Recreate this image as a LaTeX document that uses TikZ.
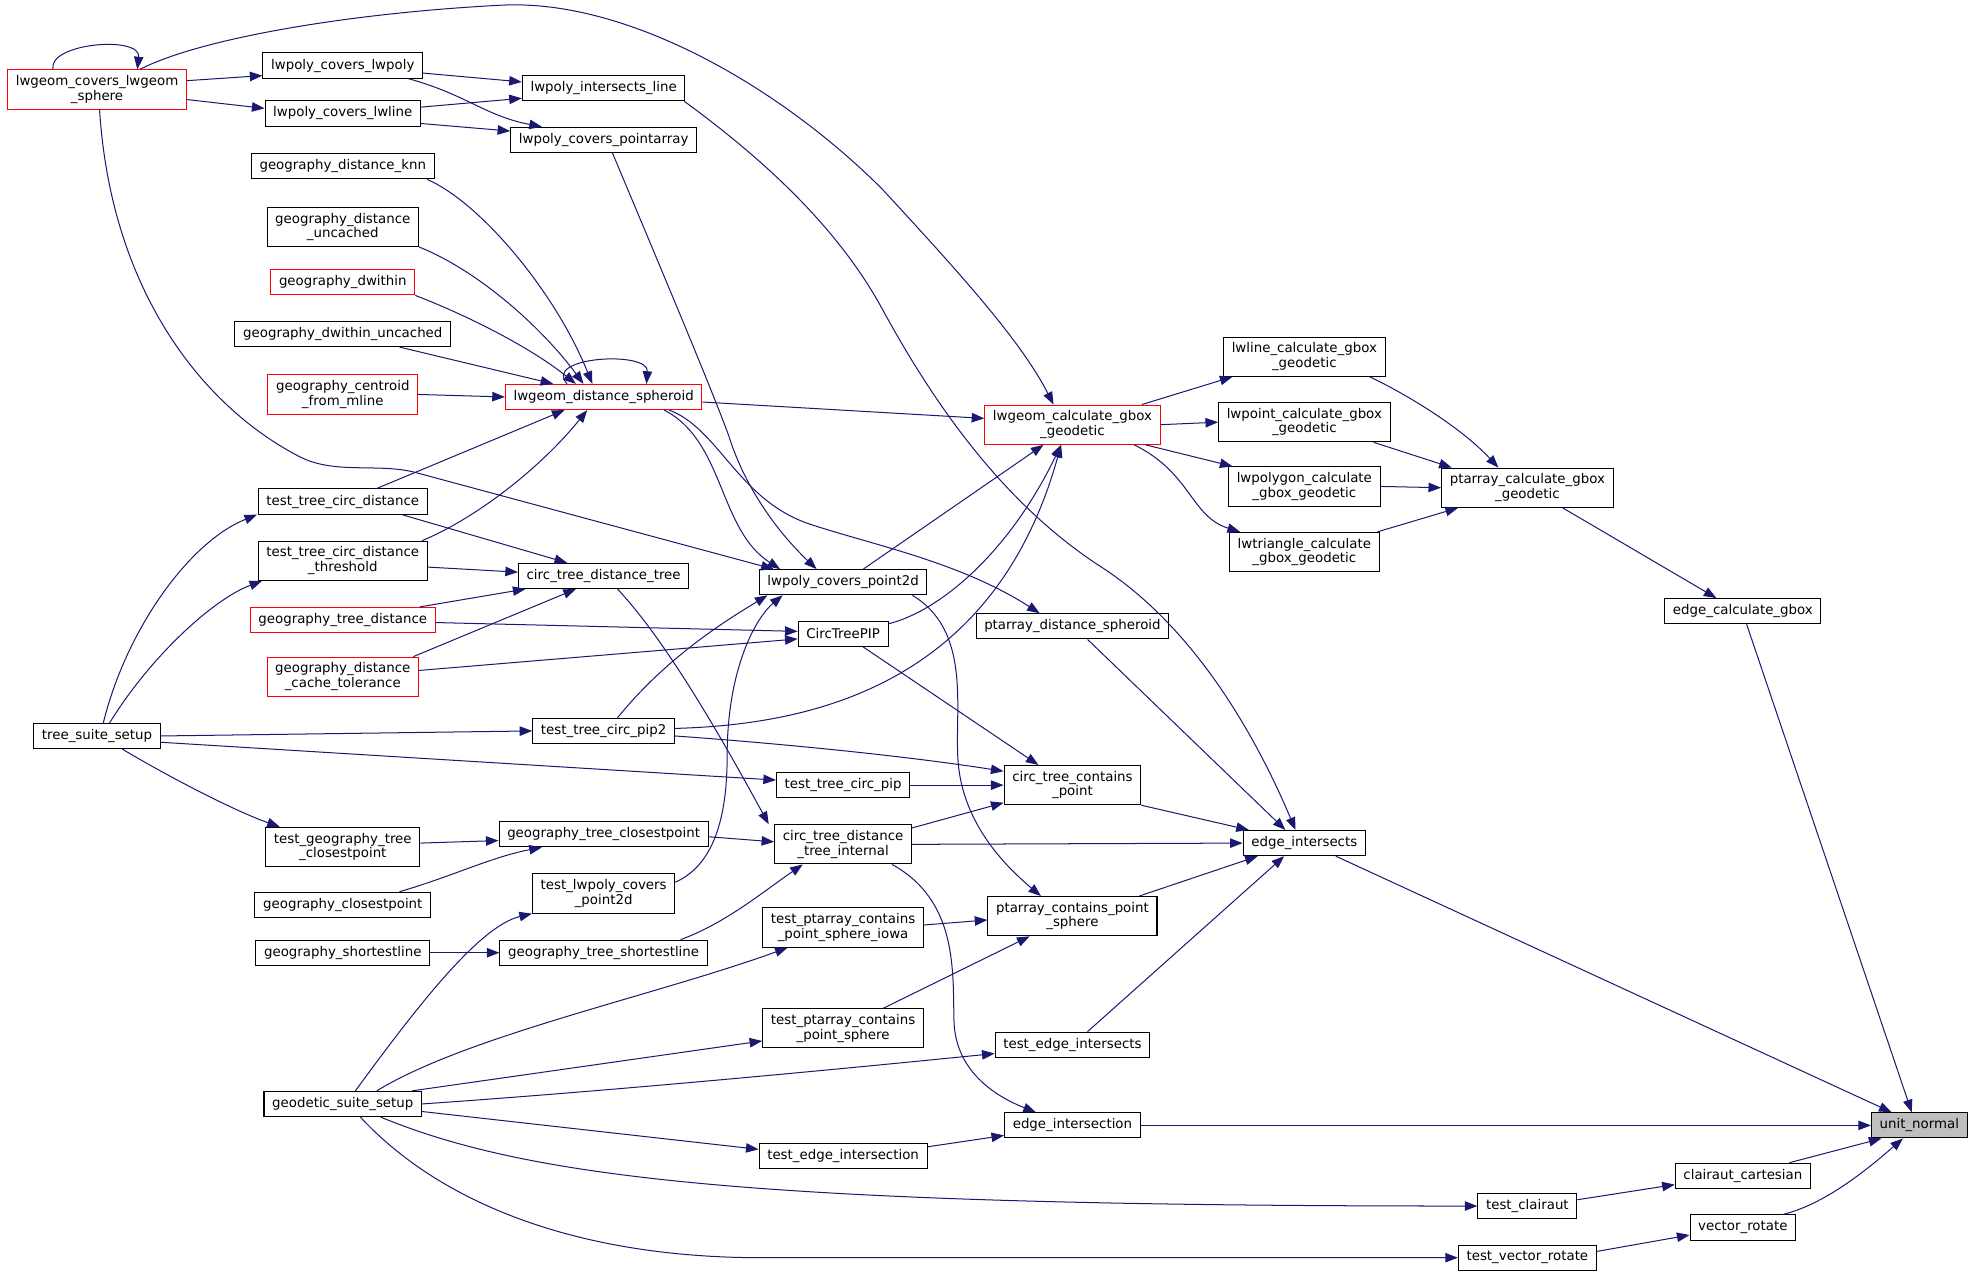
\documentclass[tikz,border=0pt]{standalone}
\usepackage{fontspec}
\setmainfont{DejaVu Sans}
\usepackage{xcolor}
\definecolor{colorEdge}{HTML}{191970}
\colorlet{colorMissing}{red}
\definecolor{colorRoot}{HTML}{BFBFBF}
\usepackage{tikz}
\usetikzlibrary{arrows.meta}
\tikzset{func/.style={draw=black, fill=white, rectangle, align=center, inner xsep=6.5pt, inner ysep=4.5pt, minimum height=20pt, font={\fontsize{10.6}{11.6}\selectfont}}}
\tikzset{funcRed/.style={func, draw=colorMissing}}
\tikzset{funcRoot/.style={func, fill=colorRoot}}

\begin{document}
\begin{tikzpicture}[x=1pt, y=-1pt, >={Triangle[length=10pt,width=7.5pt]}, thick]
\useasboundingbox (0,0) rectangle (1568,1012.5);
\node[funcRoot] (n1) at (1523,893) {unit\_normal};
\node[func] (n2) at (1035,669) {edge\_intersects};
\node[func] (n3) at (1383,485) {edge\_calculate\_gbox};
\node[func] (n4) at (851,893) {edge\_intersection};
\node[func] (n5) at (1383,933) {clairaut\_cartesian};
\node[func] (n6) at (1383,974) {vector\_rotate};
\node[func] (n7) at (1212,387) {ptarray\_calculate\_gbox\\\_geodetic};
\node[func] (n8) at (1035,283) {lwline\_calculate\_gbox\\\_geodetic};
\node[func] (n9) at (1035,335) {lwpoint\_calculate\_gbox\\\_geodetic};
\node[func] (n10) at (1035,386) {lwpolygon\_calculate\\\_gbox\_geodetic};
\node[func] (n11) at (1035,438) {lwtriangle\_calculate\\\_gbox\_geodetic};
\node[funcRed] (n12) at (851,337) {lwgeom\_calculate\_gbox\\\_geodetic};
\node[funcRed] (n13) at (77,71) {lwgeom\_covers\_lwgeom\\\_sphere};
\node[func] (n14) at (272,52) {lwpoly\_covers\_lwpoly};
\node[func] (n15) at (272,90) {lwpoly\_covers\_lwline};
\node[func] (n16) at (479,70) {lwpoly\_intersects\_line};
\node[func] (n17) at (479,111) {lwpoly\_covers\_pointarray};
\node[func] (n18) at (669,462) {lwpoly\_covers\_point2d};
\node[funcRed] (n19) at (479,315) {lwgeom\_distance\_spheroid};
\node[func] (n20) at (272,132) {geography\_distance\_knn};
\node[func] (n21) at (272,180) {geography\_distance\\\_uncached};
\node[funcRed] (n22) at (272,224) {geography\_dwithin};
\node[func] (n23) at (272,265) {geography\_dwithin\_uncached};
\node[funcRed] (n24) at (272,313) {geography\_centroid\\\_from\_mline};
\node[func] (n25) at (272,398) {test\_tree\_circ\_distance};
\node[func] (n26) at (272,445) {test\_tree\_circ\_distance\\\_threshold};
\node[func] (n27) at (77,584) {tree\_suite\_setup};
\node[func] (n28) at (479,457) {circ\_tree\_distance\_tree};
\node[funcRed] (n29) at (272,492) {geography\_tree\_distance};
\node[funcRed] (n30) at (272,537) {geography\_distance\\\_cache\_tolerance};
\node[func] (n31) at (669,503) {CircTreePIP};
\node[func] (n32) at (851,497) {ptarray\_distance\_spheroid};
\node[func] (n33) at (479,580) {test\_tree\_circ\_pip2};
\node[func] (n34) at (851,623) {circ\_tree\_contains\\\_point};
\node[func] (n35) at (669,623) {test\_tree\_circ\_pip};
\node[func] (n36) at (669,670) {circ\_tree\_distance\\\_tree\_internal};
\node[func] (n37) at (479,662) {geography\_tree\_closestpoint};
\node[func] (n38) at (272,672) {test\_geography\_tree\\\_closestpoint};
\node[func] (n39) at (272,718) {geography\_closestpoint};
\node[func] (n40) at (479,709) {test\_lwpoly\_covers\\\_point2d};
\node[func] (n41) at (479,756) {geography\_tree\_shortestline};
\node[func] (n42) at (272,756) {geography\_shortestline};
\node[func] (n43) at (851,727) {ptarray\_contains\_point\\\_sphere};
\node[func] (n44) at (669,736) {test\_ptarray\_contains\\\_point\_sphere\_iowa};
\node[func] (n45) at (669,816) {test\_ptarray\_contains\\\_point\_sphere};
\node[func] (n46) at (851,829) {test\_edge\_intersects};
\node[func] (n47) at (272,876) {geodetic\_suite\_setup};
\node[func] (n48) at (669,917) {test\_edge\_intersection};
\node[func] (n49) at (1212,957) {test\_clairaut};
\node[func] (n50) at (1212,998) {test\_vector\_rotate};
\draw [->, colorEdge] ([xshift=25pt]n2.south) -- ([xshift=-22pt]n1.north);
\draw [->, colorEdge] ([xshift=3pt]n3.south) -- ([xshift=-6pt]n1.north);
\draw [->, colorEdge] (n4.east) -- (n1.west);
\draw [->, colorEdge] ([xshift=37pt]n5.north) -- ([xshift=-30pt]n1.south);
\draw [->, colorEdge] ([xshift=32pt]n6.north) .. controls (1450,955) and (1485,925) .. ([xshift=-13pt]n1.south);
\draw [->, colorEdge] ([yshift=5pt]n49.east) -- ([yshift=-7pt]n5.west);
\draw [->, colorEdge] ([yshift=5pt]n50.east) -- ([yshift=-6pt]n6.west);
\draw [->, colorEdge] ([xshift=30pt]n47.south) .. controls (420,935) and (600,957) .. (n49.west);
\draw [->, colorEdge] ([xshift=14pt]n47.south) .. controls (340,945) and (440,997) .. (600,998) -- (n50.west);
\draw [->, colorEdge] ([yshift=-6pt]n47.east) -- ([yshift=5pt]n48.west);
\draw [->, colorEdge] (n47.east) .. controls (480,866) and (650,850) .. ([yshift=-7pt]n46.west);
\draw [->, colorEdge] ([xshift=55pt]n47.north) -- ([yshift=-10pt]n45.west);
\draw [->, colorEdge] ([xshift=27pt]n47.north) .. controls (370,822) and (520,790) .. ([xshift=-44pt]n44.south);
\draw [->, colorEdge] ([xshift=10pt]n47.north) .. controls (330,800) and (380,735) .. (n40.south west);
\draw [->, colorEdge] (n42.east) -- (n41.west);
\draw [->, colorEdge] ([xshift=61pt]n41.north) .. controls (575,733) and (605,708) .. ([xshift=-32pt]n36.south);
\draw [->, colorEdge] ([xshift=45pt]n39.north) .. controls (360,695) and (390,680) .. ([xshift=-49pt]n37.south);
\draw [->, colorEdge] ([yshift=3pt]n38.east) -- ([yshift=-5pt]n37.west);
\draw [->, colorEdge] ([xshift=20pt]n27.south) .. controls (140,620) and (190,645) .. ([xshift=-50pt]n38.north);
\draw [->, colorEdge] ([yshift=-5pt]n27.east) -- ([yshift=4pt]n35.west);
\draw [->, colorEdge] (n27.east) -- (n33.west);
\draw [->, colorEdge] ([xshift=5pt]n27.north) .. controls (100,500) and (150,430) .. ([xshift=-68pt]n25.south);
\draw [->, colorEdge] ([xshift=10pt]n27.north) .. controls (120,520) and (170,475) .. ([xshift=-64pt]n26.south);
\draw [->, colorEdge] ([xshift=27pt]n25.north) -- ([xshift=-31pt]n19.south);
\draw [->, colorEdge] ([xshift=63pt]n26.north) .. controls (380,410) and (430,370) .. ([xshift=-13pt]n19.south);
\draw [->, colorEdge] ([xshift=47pt]n25.south) -- ([xshift=-29pt]n28.north);
\draw [->, colorEdge] ([yshift=-5pt]n26.east) -- ([yshift=3pt]n28.west);
\draw [->, colorEdge] ([xshift=61pt]n29.north) -- ([xshift=-62pt]n28.south);
\draw [->, colorEdge] ([xshift=56pt]n30.north) -- ([xshift=-22pt]n28.south);
\draw [->, colorEdge] ([yshift=-2pt]n29.east) -- ([yshift=2pt]n31.west);
\draw [->, colorEdge] ([yshift=5pt]n30.east) -- ([yshift=-4pt]n31.west);
\draw [->, colorEdge] ([xshift=11pt]n28.south) .. controls (530,510) and (575,590) .. ([xshift=-59pt]n36.north);
\draw [->, colorEdge] ([yshift=-2pt]n37.east) -- ([yshift=2pt]n36.west);
\draw [->, colorEdge] (n36.east) -- (n2.west);
\draw [->, colorEdge] ([yshift=13pt]n36.east) -- ([yshift=2pt]n34.south west);
\draw [->, colorEdge] (n35.east) -- (n34.west);
\draw [->, colorEdge] ([yshift=-4pt]n33.east) .. controls (620,590) and (720,600) .. ([yshift=11pt]n34.west);
\draw [->, colorEdge] ([xshift=11pt]n33.north) .. controls (530,520) and (580,490) .. ([xshift=-60pt]n18.south);
\draw [->, colorEdge] ([yshift=9pt]n40.east) .. controls (570,685) and (577,640) .. (577,600) .. controls (577,530) and (600,490) .. ([xshift=-48pt]n18.south);
\draw [->, colorEdge] ([xshift=16pt]n18.north) -- ([xshift=-23pt]n12.south);
\draw [->, colorEdge] ([yshift=8pt]n31.east) .. controls (745,485) and (800,440) .. ([xshift=-9pt]n12.south);
\draw [->, colorEdge] ([yshift=2pt]n33.east) .. controls (650,575) and (790,540) .. ([xshift=-9pt]n12.south);
\draw [->, colorEdge] ([yshift=-4pt]n19.east) -- ([yshift=5pt]n12.west);
\draw [->, colorEdge] ([xshift=34pt]n13.north) .. controls (160,30) and (280,10) .. (400,4) .. controls (500,0) and (620,70) .. (700,150) .. controls (760,215) and (810,270) .. ([xshift=-15pt]n12.north);
\draw [->, colorEdge] ([xshift=-35pt]n13.north) .. controls (38,34) and (112,28) .. ([xshift=32pt]n13.north);
\draw [->, colorEdge] ([yshift=7pt]n13.east) -- ([yshift=-8pt]n14.west);
\draw [->, colorEdge] ([yshift=-8pt]n13.east) -- ([yshift=4pt]n15.west);
\draw [->, colorEdge] ([yshift=-6pt]n14.east) -- ([yshift=5pt]n16.west);
\draw [->, colorEdge] ([yshift=5pt]n15.east) -- ([yshift=-8pt]n16.west);
\draw [->, colorEdge] ([xshift=52pt]n14.south) .. controls (370,75) and (385,92) .. ([xshift=-49pt]n17.north);
\draw [->, colorEdge] ([yshift=-8pt]n15.east) -- ([yshift=7pt]n17.west);
\draw [->, colorEdge] ([xshift=64pt]n16.south) .. controls (604,125) and (664,179) .. (700,245) .. controls (743,324) and (798,401) .. (874,450) .. controls (945,496) and (994,578) .. ([xshift=-7pt]n2.north);
\draw [->, colorEdge] ([xshift=7pt]n17.south) .. controls (540,250) and (565,310) .. (578,345) .. controls (592,390) and (620,425) .. ([xshift=-21pt]n18.north);
\draw [->, colorEdge] ([xshift=2pt]n13.south) .. controls (88,230) and (160,322) .. (237,362) .. controls (265,377) and (300,367) .. (330,375) -- ([xshift=-55pt]n18.north);
\draw [->, colorEdge] ([xshift=48pt]n19.south) .. controls (575,350) and (570,420) .. ([xshift=-50pt]n18.north);
\draw [->, colorEdge] ([xshift=52pt]n19.south) .. controls (570,340) and (585,395) .. (640,415) .. controls (690,432) and (760,445) .. ([xshift=-26pt]n32.north);
\draw [->, colorEdge] ([xshift=-29pt]n19.north) .. controls (430,283) and (515,278) .. ([xshift=34pt]n19.north);
\draw [->, colorEdge] ([xshift=67pt]n20.south) .. controls (380,160) and (440,230) .. ([xshift=-9pt]n19.north);
\draw [->, colorEdge] (n21.south east) .. controls (380,215) and (430,260) .. ([xshift=-16pt]n19.north);
\draw [->, colorEdge] (n22.south east) .. controls (370,250) and (420,275) .. ([xshift=-22pt]n19.north);
\draw [->, colorEdge] ([xshift=45pt]n23.south) -- ([xshift=-40pt]n19.north);
\draw [->, colorEdge] (n24.east) -- (n19.west);
\draw [->, colorEdge] ([xshift=55pt]n12.north) -- ([xshift=-57pt]n8.south);
\draw [->, colorEdge] (n12.east) -- (n9.west);
\draw [->, colorEdge] ([xshift=58pt]n12.south) -- ([xshift=-57pt]n10.north);
\draw [->, colorEdge] ([xshift=49pt]n12.south) .. controls (945,375) and (945,410) .. ([xshift=-51pt]n11.north);
\draw [->, colorEdge] ([xshift=52pt]n8.south) .. controls (1120,315) and (1160,340) .. ([xshift=-23pt]n7.north);
\draw [->, colorEdge] ([xshift=55pt]n9.south) -- ([xshift=-60pt]n7.north);
\draw [->, colorEdge] (n10.east) -- (n7.west);
\draw [->, colorEdge] ([xshift=58pt]n11.north) -- ([xshift=-55pt]n7.south);
\draw [->, colorEdge] ([xshift=28pt]n7.south) -- ([xshift=-21pt]n3.north);
\draw [->, colorEdge] ([xshift=12pt]n32.south) -- ([xshift=-15pt]n2.north);
\draw [->, colorEdge] (n34.south east) -- ([xshift=-44pt]n2.north);
\draw [->, colorEdge] ([xshift=53pt]n43.north) -- ([xshift=-37pt]n2.south);
\draw [->, colorEdge] ([xshift=12pt]n46.north) -- ([xshift=-16pt]n2.south);
\draw [->, colorEdge] ([yshift=2pt]n44.east) -- ([yshift=-3pt]n43.west);
\draw [->, colorEdge] ([xshift=32pt]n45.north) -- ([xshift=-34pt]n43.south);
\draw [->, colorEdge] ([xshift=55pt]n18.south) .. controls (770,500) and (758,560) .. (760,600) .. controls (762,650) and (795,685) .. ([xshift=-25pt]n43.north);
\draw [->, colorEdge] ([xshift=39pt]n36.south) .. controls (760,715) and (756,770) .. (757,810) .. controls (758,850) and (790,870) .. ([xshift=-29pt]n4.north);
\draw [->, colorEdge] ([yshift=7pt]n48.east) -- ([yshift=-8pt]n4.west);
\draw [->, colorEdge] ([xshift=16pt]n31.south) -- ([xshift=-27pt]n34.north);
\end{tikzpicture}
\end{document}
